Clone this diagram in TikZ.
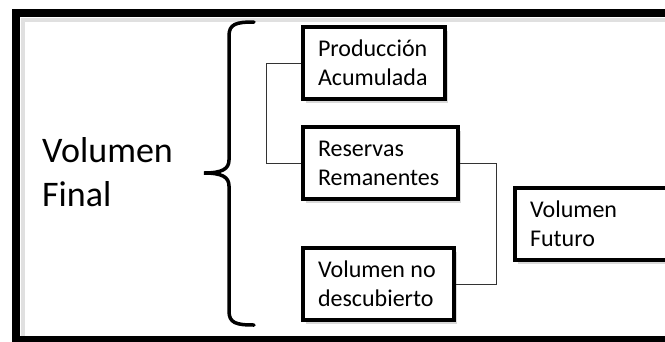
\documentclass[tikz,border=0pt]{standalone}
\usepackage{fontspec}
\setmainfont{Carlito}
\usetikzlibrary{positioning,shadows}
\begin{document}
\begin{tikzpicture}[x=1pt,y=-1pt,
		box/.style={draw, line width=4pt, fill=white, minimum height=72pt, inner xsep=15pt, inner ysep=0pt,
			align=flush left, font=\fontsize{24}{29}\selectfont,
			drop shadow={shadow xshift=3pt, shadow yshift=-4pt, opacity=.3}},
		link/.style={line width=0.8pt, black!80},
		bracestroke/.style={line width=3.5pt, line cap=round}]
	% --- Parameters ---
	\def\boxx{301}    % left border of the stacked boxes
	\def\spine{229}   % x of the brace spine
	\def\tip{204}     % x of the brace tip
	\useasboundingbox (0,0) rectangle (665,341);
	\clip (0,0) rectangle (665,341);
	% --- Outer frame (right side runs off the page) ---
	\draw[black!12, line width=4pt] (23,340) |- (720,20);
	\draw[line width=8pt] (16,13) rectangle (720,340);
	% --- Left label ---
	\node[font=\fontsize{36}{44}\selectfont, align=flush left, anchor=west, inner sep=0pt] (vfinal) at (42,172) {Volumen\\Final};
	% --- Brace ---
	\draw[bracestroke] (254,22) .. controls (236,22) and (\spine,24) .. (\spine,36) -- (\spine,160)
		.. controls (\spine,169) and (222,173) .. (\tip,173)
		.. controls (222,173) and (\spine,177) .. (\spine,186) -- (\spine,311)
		.. controls (\spine,323) and (236,325) .. (254,325);
	% --- Boxes ---
	\node[box, text width=112pt, anchor=north west] (prod) at (\boxx,25) {Producción\\Acumulada};
	\node[box, text width=125pt, below=24pt of prod.south west, anchor=north west] (res) {Reservas\\Remanentes};
	\node[box, text width=121pt, below=45pt of res.south west, anchor=north west] (vnd) {Volumen no\\descubierto};
	\node[box, text width=200pt, anchor=north west] (fut) at (513,186) {Volumen\\Futuro};
	% --- Connectors ---
	\draw[link] (prod.west) -- ++(-35,0) |- (res.west);
	\draw[link] (res.east) -- ++(36,0) |- (vnd.east);
\end{tikzpicture}
\end{document}
